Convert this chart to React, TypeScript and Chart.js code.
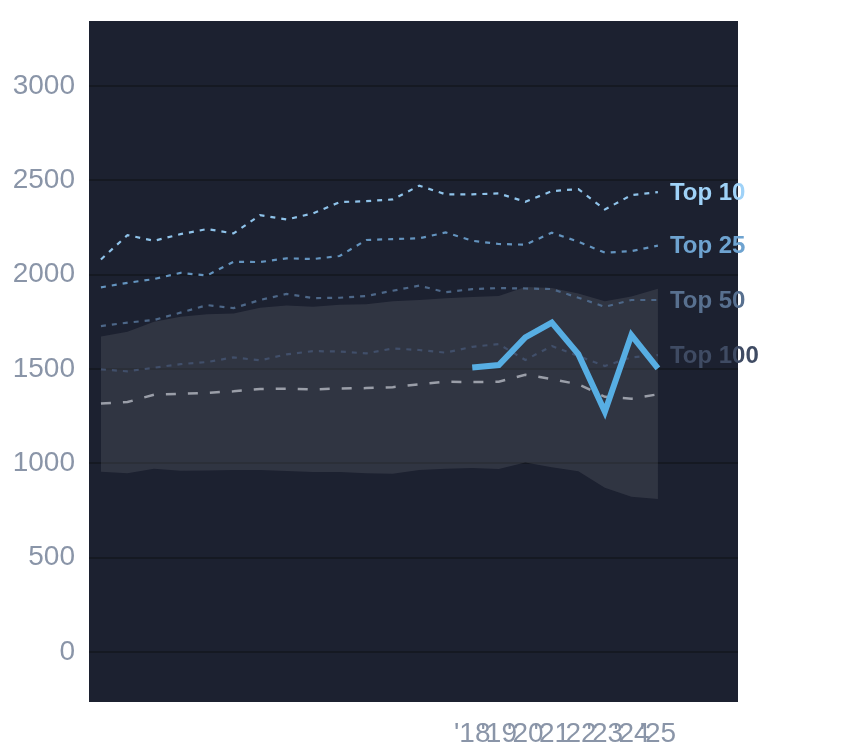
import { useEffect, useRef } from "react";
import { Chart, registerables } from "chart.js";

Chart.register(...registerables);

const years = [2004, 2005, 2006, 2007, 2008, 2009, 2010, 2011, 2012, 2013, 2014, 2015, 2016, 2017, 2018, 2019, 2020, 2021, 2022, 2023, 2024, 2025];
const bandHigh = [1672, 1698, 1751, 1777, 1790, 1795, 1825, 1837, 1830, 1841, 1843, 1860, 1866, 1875, 1882, 1887, 1935, 1930, 1900, 1860, 1885, 1925];
const bandLow = [956, 947, 972, 961, 962, 965, 965, 959, 954, 954, 947, 945, 965, 972, 975, 970, 1005, 979, 958, 871, 823, 811];
const top10 = [2081, 2210, 2180, 2215, 2242, 2219, 2316, 2293, 2325, 2385, 2390, 2399, 2472, 2426, 2426, 2431, 2387, 2443, 2454, 2346, 2422, 2438];
const top25 = [1933, 1957, 1977, 2010, 1996, 2069, 2067, 2087, 2083, 2099, 2184, 2189, 2193, 2224, 2180, 2163, 2159, 2223, 2175, 2117, 2125, 2154];
const top50 = [1728, 1746, 1760, 1799, 1839, 1823, 1866, 1898, 1876, 1878, 1887, 1915, 1942, 1907, 1924, 1929, 1927, 1924, 1878, 1830, 1866, 1866];
const top100 = [1498, 1488, 1507, 1526, 1537, 1562, 1546, 1578, 1595, 1593, 1583, 1609, 1601, 1587, 1618, 1632, 1548, 1622, 1569, 1516, 1562, 1574];
const median = [1318, 1325, 1364, 1369, 1374, 1382, 1394, 1396, 1392, 1397, 1399, 1404, 1419, 1433, 1431, 1433, 1470, 1447, 1419, 1353, 1343, 1366];
const recentYears = [2018, 2019, 2020, 2021, 2022, 2023, 2024, 2025];
const recent = [1508, 1521, 1668, 1746, 1579, 1274, 1680, 1503];
const yTicks = [0, 500, 1000, 1500, 2000, 2500, 3000];

const FONT = "Arial, 'Liberation Sans', sans-serif";
const TICK_COLOR = "#8a95a8";

const pts = (xs: number[], ys: number[]) => xs.map((x, i) => ({ x, y: ys[i] }));

// dark plot background
const plotBg = {
  id: "plotBg",
  beforeDraw(chart: any) {
    const { ctx, chartArea: a } = chart;
    ctx.save();
    ctx.fillStyle = "#1c2130";
    ctx.fillRect(a.left, a.top, a.right - a.left, a.bottom - a.top);
    ctx.restore();
  },
};

// "Top N" labels at the end of each percentile line
const endLabels = {
  id: "endLabels",
  afterDatasetsDraw(chart: any) {
    const { ctx } = chart;
    ctx.save();
    ctx.font = `bold 24px ${FONT}`;
    ctx.textAlign = "left";
    ctx.textBaseline = "middle";
    chart.data.datasets.forEach((ds: any, i: number) => {
      if (!ds.endLabel) return;
      const meta = chart.getDatasetMeta(i);
      const last = meta.data[meta.data.length - 1];
      ctx.fillStyle = ds.labelColor;
      ctx.fillText(ds.endLabel, last.x + 12, last.y + 1);
    });
    ctx.restore();
  },
};

export default function App() {
  const canvasRef = useRef<HTMLCanvasElement>(null);

  useEffect(() => {
    if (!canvasRef.current) return;
    const dotted = (label: string, data: number[], color: string, labelColor: string) => ({
      label,
      endLabel: label,
      labelColor,
      data: pts(years, data),
      borderColor: color,
      borderWidth: 2.2,
      borderDash: [5, 6],
      pointRadius: 0,
      fill: false,
      tension: 0,
    });

    const chart = new Chart(canvasRef.current, {
      type: "line",
      data: {
        datasets: [
          {
            label: "Recent",
            data: pts(recentYears, recent),
            borderColor: "#57aee3",
            borderWidth: 6,
            pointRadius: 0,
            fill: false,
          },
          {
            label: "Median",
            data: pts(years, median),
            borderColor: "#9a9ea8",
            borderWidth: 2.5,
            borderDash: [10, 12],
            pointRadius: 0,
            fill: false,
          },
          dotted("Top 10", top10, "#8fc3ea", "#9fd2f8"),
          dotted("Top 25", top25, "#6494bf", "#6ea3d0"),
          dotted("Top 50", top50, "#4d6788", "#58708f"),
          dotted("Top 100", top100, "#414f6a", "#3f4b63"),
          {
            label: "High",
            data: pts(years, bandHigh),
            borderWidth: 0,
            pointRadius: 0,
            backgroundColor: "rgba(96,100,110,0.3)",
            fill: "+1",
          },
          {
            label: "Low",
            data: pts(years, bandLow),
            borderWidth: 0,
            pointRadius: 0,
            fill: false,
          },
        ] as any,
      },
      options: {
        animation: false,
        responsive: false,
        layout: { padding: { top: 21, right: 106, left: 0, bottom: 0 } },
        plugins: {
          legend: { display: false },
          tooltip: { enabled: false },
        },
        scales: {
          x: {
            type: "linear",
            min: 2003.55,
            max: 2028.02,
            grid: { display: false },
            border: { display: false },
            afterBuildTicks: (s: any) => {
              s.ticks = recentYears.map((v) => ({ value: v }));
            },
            afterFit: (s: any) => {
              s.height = 46;
              s.paddingLeft = 0;
              s.paddingRight = 0;
            },
            ticks: {
              autoSkip: false,
              maxRotation: 0,
              padding: 7,
              color: TICK_COLOR,
              font: { family: FONT, size: 28 },
              callback: (v: any) => "'" + String(v).slice(2),
            },
          },
          y: {
            min: -265,
            max: 3345,
            grid: { color: "#151922", lineWidth: 2, drawTicks: false },
            border: { display: false },
            afterBuildTicks: (s: any) => {
              s.ticks = yTicks.map((v) => ({ value: v }));
            },
            afterFit: (s: any) => {
              s.width = 89;
              s.paddingTop = 0;
              s.paddingBottom = 0;
            },
            ticks: {
              padding: 14,
              color: TICK_COLOR,
              font: { family: FONT, size: 28 },
              callback: (v: any) => String(v),
            },
          },
        },
      },
      plugins: [plotBg, endLabels],
    });

    return () => chart.destroy();
  }, []);

  return (
    <div style={{ position: "fixed", left: 0, top: 0, width: 844, height: 748, background: "#fff" }}>
      <canvas ref={canvasRef} width={844} height={748} />
    </div>
  );
}
